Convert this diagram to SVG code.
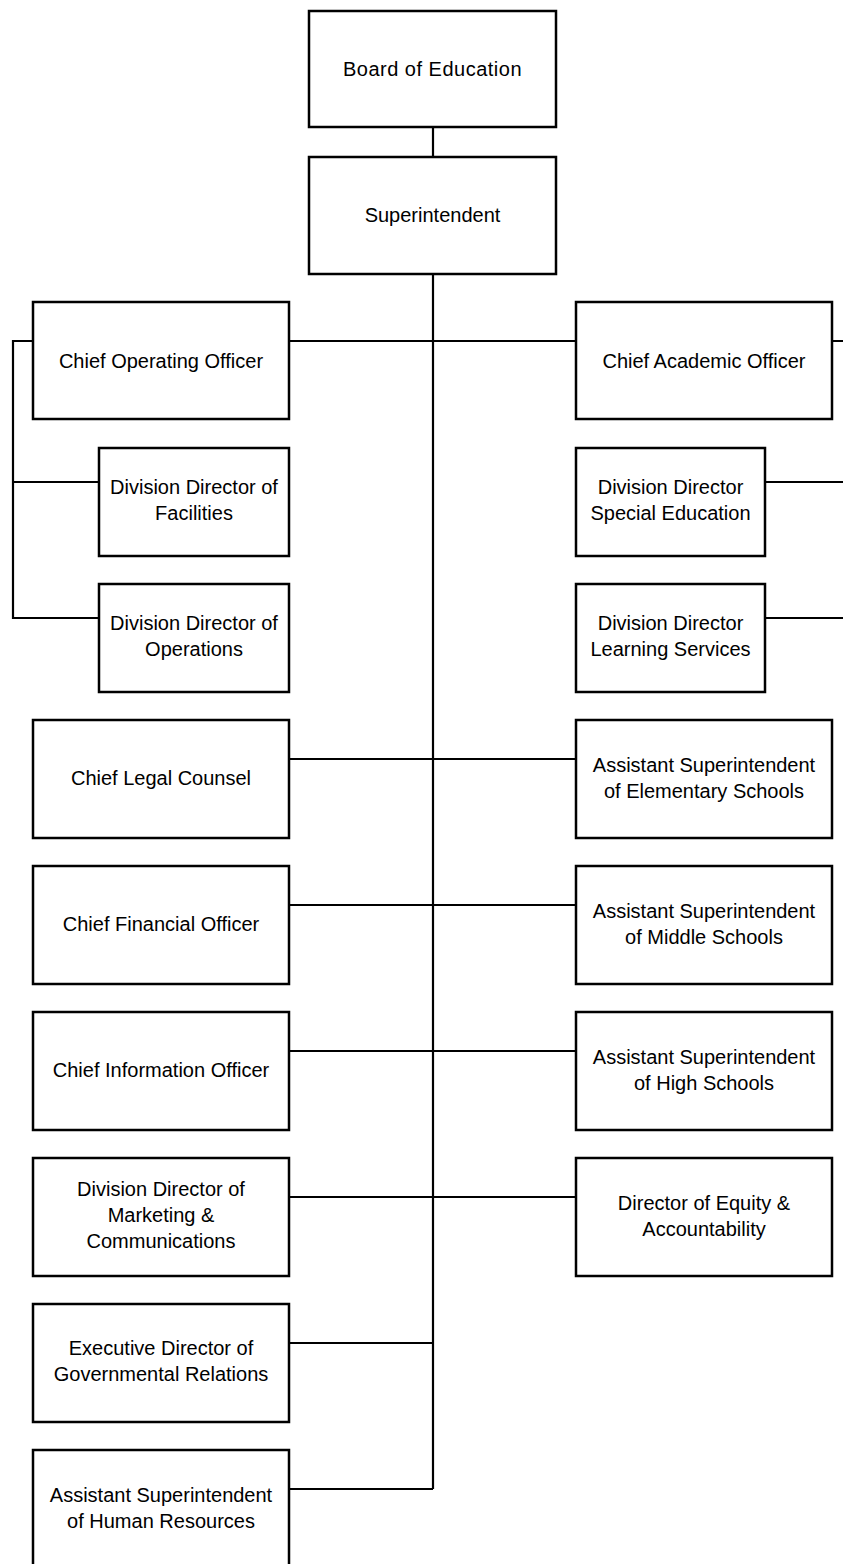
<svg xmlns="http://www.w3.org/2000/svg" width="843" height="1564" viewBox="0 0 843 1564">
<style>
.box{fill:#fff;stroke:#000;stroke-width:2.5}
.ln{fill:none;stroke:#000;stroke-width:2.2}
text{font-family:"Liberation Sans",Arial,sans-serif;font-size:20px;fill:#000;text-anchor:middle}
</style>
<rect width="843" height="1564" fill="#fff"/>
<g id="connectors">
<path class="ln" d="M433 127V157M433 274V1489"/>
<path class="ln" d="M289 341H576M832 341H843M33 341H13V618H99M13 482H99"/>
<path class="ln" d="M765 482H843M765 618H843"/>
<path class="ln" d="M289 759H576M289 905H576M289 1051H576M289 1197H576M289 1343H433M289 1489H433"/>
</g>
<g id="board"><rect class="box" x="309" y="11" width="247" height="116"/><text x="432.5" y="76" letter-spacing="0.5">Board of Education</text></g>
<g id="superintendent"><rect class="box" x="309" y="157" width="247" height="117"/><text x="432.5" y="222">Superintendent</text></g>
<g id="coo"><rect class="box" x="33" y="302" width="256" height="117"/><text x="161" y="368">Chief Operating Officer</text></g>
<g id="cao"><rect class="box" x="576" y="302" width="256" height="117"/><text x="704" y="368">Chief Academic Officer</text></g>
<g id="facilities"><rect class="box" x="99" y="448" width="190" height="108"/><text x="194" y="494">Division Director of</text><text x="194" y="520">Facilities</text></g>
<g id="operations"><rect class="box" x="99" y="584" width="190" height="108"/><text x="194" y="630">Division Director of</text><text x="194" y="656">Operations</text></g>
<g id="speced"><rect class="box" x="576" y="448" width="189" height="108"/><text x="670.5" y="494">Division Director</text><text x="670.5" y="520">Special Education</text></g>
<g id="learning"><rect class="box" x="576" y="584" width="189" height="108"/><text x="670.5" y="630">Division Director</text><text x="670.5" y="656">Learning Services</text></g>
<g id="legal"><rect class="box" x="33" y="720" width="256" height="118"/><text x="161" y="785">Chief Legal Counsel</text></g>
<g id="elementary"><rect class="box" x="576" y="720" width="256" height="118"/><text x="704" y="772">Assistant Superintendent</text><text x="704" y="798">of Elementary Schools</text></g>
<g id="cfo"><rect class="box" x="33" y="866" width="256" height="118"/><text x="161" y="931">Chief Financial Officer</text></g>
<g id="middle"><rect class="box" x="576" y="866" width="256" height="118"/><text x="704" y="918">Assistant Superintendent</text><text x="704" y="944">of Middle Schools</text></g>
<g id="cio"><rect class="box" x="33" y="1012" width="256" height="118"/><text x="161" y="1077">Chief Information Officer</text></g>
<g id="high"><rect class="box" x="576" y="1012" width="256" height="118"/><text x="704" y="1064">Assistant Superintendent</text><text x="704" y="1090">of High Schools</text></g>
<g id="marketing"><rect class="box" x="33" y="1158" width="256" height="118"/><text x="161" y="1196">Division Director of</text><text x="161" y="1222">Marketing &amp;</text><text x="161" y="1248">Communications</text></g>
<g id="equity"><rect class="box" x="576" y="1158" width="256" height="118"/><text x="704" y="1210">Director of Equity &amp;</text><text x="704" y="1236">Accountability</text></g>
<g id="governmental"><rect class="box" x="33" y="1304" width="256" height="118"/><text x="161" y="1355">Executive Director of</text><text x="161" y="1381">Governmental Relations</text></g>
<g id="hr"><rect class="box" x="33" y="1450" width="256" height="120"/><text x="161" y="1502">Assistant Superintendent</text><text x="161" y="1528">of Human Resources</text></g>
</svg>
